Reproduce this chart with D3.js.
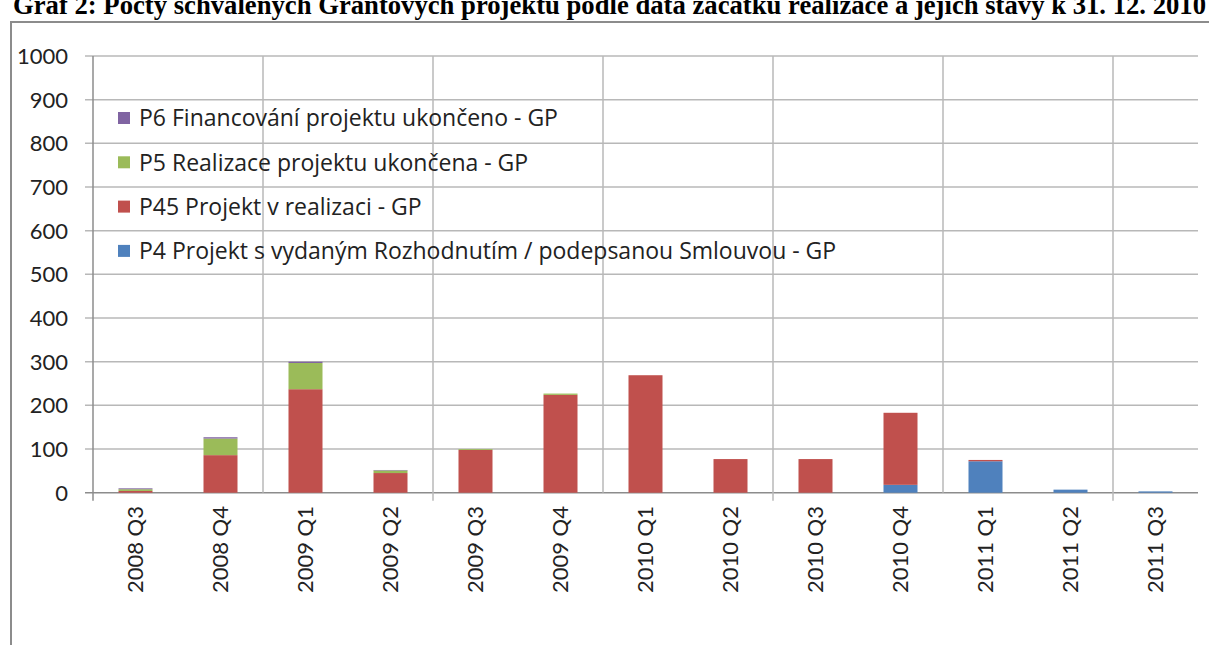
<!DOCTYPE html>
<html lang="cs">
<head>
<meta charset="utf-8">
<title>Graf 2</title>
<script src="https://cdn.jsdelivr.net/npm/d3@7"></script>
<style>
  body { margin: 0; background: #fff; }
  svg { display: block; }
</style>
</head>
<body>
<script>
// quarters on the x axis
var categories = ["2008 Q3", "2008 Q4", "2009 Q1", "2009 Q2", "2009 Q3", "2009 Q4",
                  "2010 Q1", "2010 Q2", "2010 Q3", "2010 Q4", "2011 Q1", "2011 Q2", "2011 Q3"];

// series, stacked bottom to top
var p4  = [0, 0, 0, 0, 0, 0, 0, 0, 0, 18, 72, 7, 3];
var p45 = [4, 86, 237, 45, 98, 224, 269, 77, 77, 165, 3, 0, 0];
var p5  = [4, 38, 60, 6, 2, 3, 0, 0, 0, 0, 0, 0, 0];
var p6  = [2, 3, 3, 1, 0, 0, 0, 0, 0, 0, 0, 0, 0];

var seriesNames = ["P4 Projekt s vydaným Rozhodnutím / podepsanou Smlouvou - GP",
                   "P45 Projekt v realizaci - GP",
                   "P5 Realizace projektu ukončena - GP",
                   "P6 Financování projektu ukončeno - GP"];
var seriesColors = ["#4F81BD", "#C0504D", "#9BBB59", "#8064A2"];
var yTicks = [0, 100, 200, 300, 400, 500, 600, 700, 800, 900, 1000];

var title = "Graf 2: Počty schválených Grantových projektů podle data začátku realizace a jejich stavy k 31. 12. 2010";

var width = 1209, height = 645;
// plot box (note: "top" is reserved on window, so use other names)
var plotL = 93, plotR = 1198, plotT = 56, plotB = 492.7;

var svg = d3.select("body").append("svg")
    .attr("width", width)
    .attr("height", height);

// title (cut off at the top like the original)
svg.append("text")
    .attr("x", 13)
    .attr("y", 14)
    .attr("font-family", "Liberation Serif")
    .attr("font-weight", "bold")
    .attr("font-size", 27)
    .attr("fill", "#000")
    .attr("textLength", 1193)
    .attr("lengthAdjust", "spacingAndGlyphs")
    .text(title);

// chart frame
svg.append("path")
    .attr("d", "M11," + height + "V22H" + width)
    .attr("fill", "none")
    .attr("stroke", "#8c8c8c")
    .attr("stroke-width", 2);

var rows = categories.map(function(c, i) {
  return {cat: c, p4: p4[i], p45: p45[i], p5: p5[i], p6: p6[i]};
});
var stacked = d3.stack().keys(["p4", "p45", "p5", "p6"])(rows);

var x = d3.scaleBand()
    .domain(categories)
    .range([plotL, plotR])
    .paddingInner(0.6)
    .paddingOuter(0.3);

var y = d3.scaleLinear()
    .domain([0, 1000])
    .range([plotB, plotT]);

var step = x.step();

// horizontal gridlines + y labels
svg.append("g").selectAll("line").data(yTicks).enter().append("line")
    .attr("x1", plotL - 8).attr("x2", plotR)
    .attr("y1", function(d) { return y(d); })
    .attr("y2", function(d) { return y(d); })
    .attr("stroke", function(d) { return d === 0 ? "#8c8c8c" : "#b8b8b8"; })
    .attr("stroke-width", 1.5);

svg.append("g").selectAll("text").data(yTicks).enter().append("text")
    .attr("x", 68)
    .attr("y", function(d) { return y(d); })
    .attr("dy", "0.36em")
    .attr("text-anchor", "end")
    .attr("font-family", "Lato")
    .attr("font-size", 22)
    .attr("fill", "#222")
    .text(function(d) { return d; });

// vertical gridlines every 2 quarters, ticks below axis every 4
var vIdx = d3.range(2, categories.length, 2);
svg.append("g").selectAll("line").data(vIdx).enter().append("line")
    .attr("x1", function(i) { return plotL + i * step; })
    .attr("x2", function(i) { return plotL + i * step; })
    .attr("y1", plotT)
    .attr("y2", function(i) { return i % 4 === 0 ? plotB + 8 : plotB; })
    .attr("stroke", "#b8b8b8")
    .attr("stroke-width", 1.5);

// y axis line
svg.append("line")
    .attr("x1", plotL).attr("x2", plotL)
    .attr("y1", plotT).attr("y2", plotB + 8)
    .attr("stroke", "#8c8c8c")
    .attr("stroke-width", 1.5);

// bars
svg.append("g").selectAll("g").data(stacked).enter().append("g")
    .attr("fill", function(d, i) { return seriesColors[i]; })
  .selectAll("rect").data(function(d) { return d; }).enter().append("rect")
    .attr("x", function(d) { return x(d.data.cat); })
    .attr("y", function(d) { return y(d[1]); })
    .attr("width", x.bandwidth())
    .attr("height", function(d) { return y(d[0]) - y(d[1]); });

// x labels, rotated
svg.append("g").selectAll("text").data(categories).enter().append("text")
    .attr("transform", function(d) {
      return "translate(" + (x(d) + x.bandwidth() / 2) + "," + 506 + ") rotate(-90)";
    })
    .attr("dy", "0.36em")
    .attr("text-anchor", "end")
    .attr("font-family", "Lato")
    .attr("font-size", 22)
    .attr("fill", "#222")
    .text(function(d) { return d; });

// legend, top entry is the last series
var legendOrder = [3, 2, 1, 0];
var lg = svg.append("g").selectAll("g").data(legendOrder).enter().append("g")
    .attr("transform", function(d, k) { return "translate(118," + (118 + k * 44.3) + ")"; });
lg.append("rect")
    .attr("x", 0).attr("y", -6)
    .attr("width", 12).attr("height", 12)
    .attr("fill", function(i) { return seriesColors[i]; });
lg.append("text")
    .attr("x", 21)
    .attr("dy", "0.36em")
    .attr("font-family", "Open Sans")
    .attr("font-size", 23)
    .attr("fill", "#222")
    .text(function(i) { return seriesNames[i]; });
</script>
</body>
</html>
